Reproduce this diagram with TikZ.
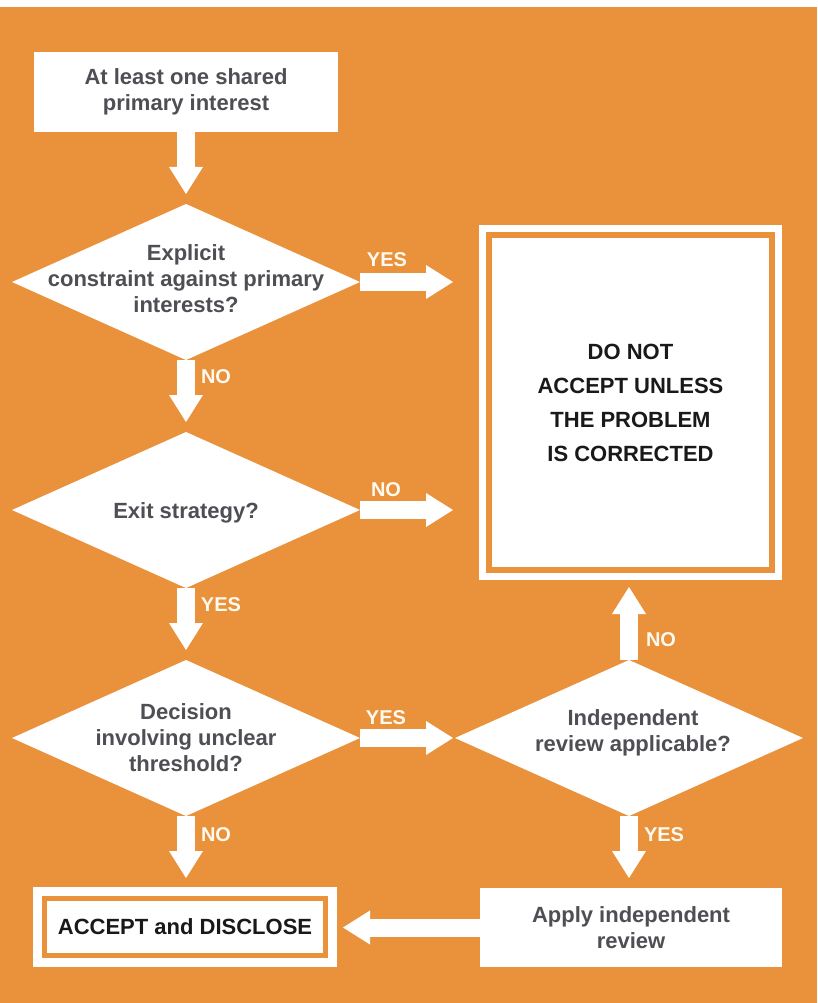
\documentclass[tikz,border=0pt]{standalone}
\usepackage{fontspec}
\setmainfont{Liberation Sans}
\usetikzlibrary{shapes.geometric,arrows.meta}
\definecolor{bgor}{RGB}{234,145,60}
\definecolor{qgray}{RGB}{78,78,84}
\definecolor{lblc}{RGB}{255,250,240}
\definecolor{dark}{RGB}{25,25,25}
\begin{document}
\begin{tikzpicture}[x=1pt,y=-1pt,
  dia/.style={diamond, fill=white, minimum width=348pt, minimum height=156pt, inner sep=0pt, outer sep=0pt},
  qtxt/.style={text=qgray, align=center, font=\fontsize{22}{26}\selectfont\bfseries, inner sep=0pt},
  plainbox/.style={rectangle, fill=white, minimum width=304pt, minimum height=80pt, inner sep=0pt, outer sep=0pt},
  dblbox/.style={rectangle, fill=white, draw=white, double=bgor, line width=7pt, double distance=6pt, outer sep=10pt, inner sep=0pt},
  dblboxb/.style={rectangle, fill=white, draw=white, double=bgor, line width=9pt, double distance=5pt, outer sep=11.5pt, inner sep=0pt},
  btxt/.style={text=dark, align=center, font=\fontsize{22}{34}\selectfont\bfseries},
  arr/.style={draw=white, line width=18pt, -{Triangle[width=34pt,length=27pt,line width=0pt]}},
  lbl/.style={text=lblc, font=\fontsize{20}{24}\selectfont\bfseries, inner sep=0pt}]
\useasboundingbox (0,0) rectangle (817,1003);
\fill[white] (0,0) rectangle (817,7);
\fill[bgor] (0,7) rectangle (817,1003);

% nodes
\node[plainbox, qtxt] (top) at (186,92) {At least one shared\\primary interest};
\node[dia] (d1) at (186,282) {};
\node[qtxt] (t1) at (186,279) {Explicit\\constraint against primary\\interests?};
\node[dia] (d2) at (186,510) {};
\node[qtxt] (t2) at (186,513) {Exit strategy?};
\node[dia] (d3) at (186,738) {};
\node[qtxt] (t3) at (186,738) {Decision\\involving unclear\\threshold?};
\node[dia] (d4) at (629,738) {};
\node[qtxt] (t4) at (633,733) {Independent\\review applicable?};
\node[dblbox, btxt, minimum width=283pt, minimum height=335pt] (big) at (630.5,402.5) {DO NOT\\ACCEPT UNLESS\\THE PROBLEM\\IS CORRECTED};
\node[plainbox, qtxt, minimum width=302pt, minimum height=79pt] (apply) at (631,927.5) {Apply independent\\review};
\node[dblboxb, btxt, minimum width=281pt, minimum height=57pt] (accept) at (185,927) {ACCEPT and DISCLOSE};

% connectors
\draw[arr, shorten >=10pt] (top.south) -- (d1.north);
\draw[arr, shorten >=26pt] (d1.east) -- (d1.east -| big.west);
\draw[arr, shorten >=10pt] (d1.south) -- (d2.north);
\draw[arr, shorten >=26pt] (d2.east) -- (d2.east -| big.west);
\draw[arr, shorten >=10pt] (d2.south) -- (d3.north);
\draw[arr, shorten >=2pt] (d3.east) -- (d4.west);
\draw[arr, shorten >=9pt] (d3.south) -- (d3.south |- accept.north);
\draw[arr, shorten >=7pt] (d4.north) -- (d4.north |- big.south);
\draw[arr, shorten >=10pt] (d4.south) -- (d4.south |- apply.north);
\draw[arr, shorten >=6pt] (apply.west) -- (apply.west -| accept.east);

% labels
\node[lbl] (l1) at (387,260) {YES};
\node[lbl] (l2) at (216,377) {NO};
\node[lbl] (l3) at (386,490) {NO};
\node[lbl] (l4) at (221,605) {YES};
\node[lbl] (l5) at (386,718) {YES};
\node[lbl] (l6) at (216,835) {NO};
\node[lbl] (l7) at (661,640) {NO};
\node[lbl] (l8) at (664,835) {YES};
\end{tikzpicture}
\end{document}
